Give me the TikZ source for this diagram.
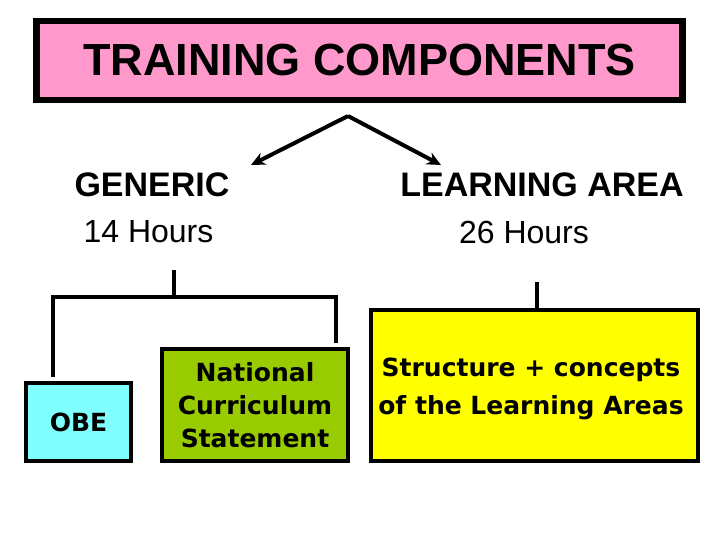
\documentclass[tikz,border=0pt]{standalone}
\usepackage{fontspec}
\setmainfont{Liberation Sans}
\newfontfamily\boxfont{DejaVu Sans}
\usetikzlibrary{arrows.meta}
\usetikzlibrary{positioning}
\tikzset{compbox/.style = {draw, line width=4, rectangle, inner sep=0, align=center,
                           font=\boxfont\bfseries\fontsize{25}{33}\selectfont}}
\tikzset{branch/.style = {line width=4}}
\tikzset{arr/.style = {line width=4, -{Stealth[length=14, width=13]}}}
\definecolor{mpink}{HTML}{FF99CC}
\definecolor{mcyan}{HTML}{80FFFF}
\definecolor{mgreen}{HTML}{99CC00}
\definecolor{myellow}{HTML}{FFFF00}

\begin{document}
\begin{tikzpicture}[x=1pt, y=-1pt]
      \useasboundingbox [fill=white] (0, 0) rectangle (720, 540);

      \node [draw, line width=6.5, fill=mpink, minimum width=646, minimum height=79, inner sep=0,
             font=\bfseries\fontsize{45}{45}\selectfont] (title) at (359.5, 60.5) {TRAINING COMPONENTS};

      \coordinate (apex) at (348, 116);
      \coordinate (genend) at (251, 165);
      \coordinate (learnend) at (441, 165);
      \draw [arr] (apex) -- (genend);
      \draw [arr] (apex) -- (learnend);

      \node [font=\bfseries\fontsize{34}{34}\selectfont] (generic) at (152, 185) {GENERIC};
      \node [font=\fontsize{32}{32}\selectfont] (generichrs) at (148.5, 232) {14 Hours};
      \node [font=\bfseries\fontsize{34}{34}\selectfont] (learning) at (542, 185) {LEARNING AREA};
      \node [font=\fontsize{32}{32}\selectfont] (learninghrs) at (524, 232) {26 Hours};

      \node [compbox, fill=mcyan, minimum width=105, minimum height=78] (obe) at (78.5, 422) {OBE};
      \node [compbox, fill=mgreen, minimum width=186, minimum height=112] (ncs) at (255, 405)
            {National\\Curriculum\\Statement};
      \node [compbox, fill=myellow, minimum width=327, minimum height=151] (struct) at (534.5, 385.5) {};
      \node [font=\boxfont\bfseries\fontsize{25}{38}\selectfont, align=center] (structtxt)
            at (531, 389) {Structure + concepts\\of the Learning Areas};

      % generic branch
      \coordinate (gentop) at (174, 270);
      \coordinate (genbar) at (174, 297);
      \coordinate (obetop) at (53, 377);
      \coordinate (ncstop) at (336, 343);
      \draw [branch] (gentop) -- (genbar);
      \draw [branch] (obetop) |- (genbar) -| (ncstop);

      % learning area branch
      \coordinate (learntop) at (537, 282);
      \draw [branch] (learntop) -- (learntop |- struct.north);
    \end{tikzpicture}
\end{document}
